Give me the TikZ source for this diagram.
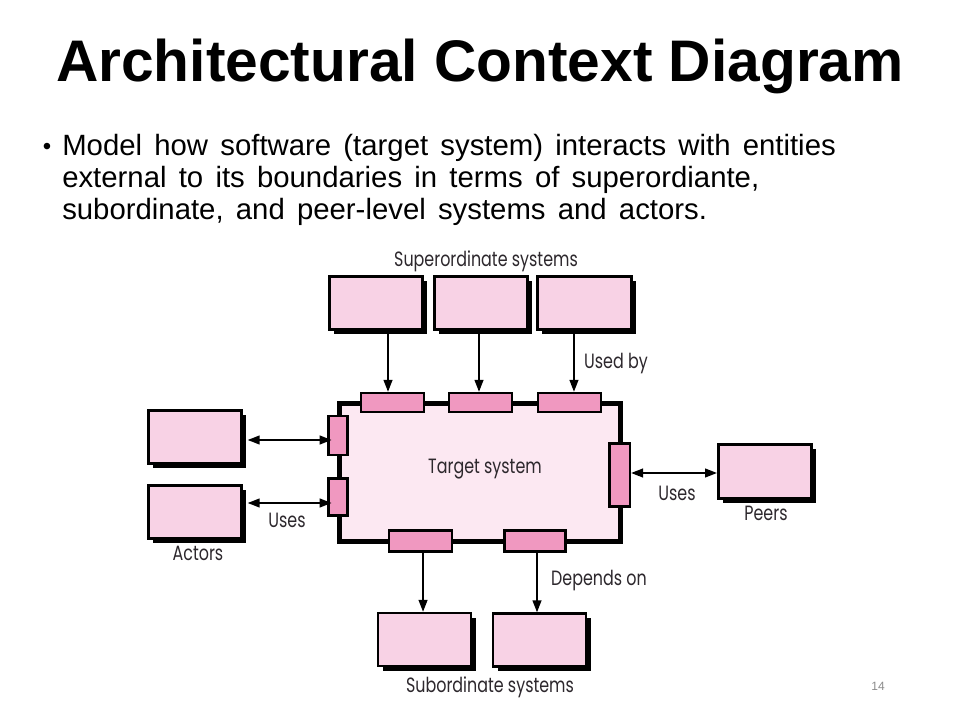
\documentclass[tikz,border=0pt]{standalone}
\usepackage{fontspec}
\setmainfont{Liberation Sans}
\newfontfamily\bodyfont{Liberation Sans}[WordSpace=1.5]
\newfontfamily\diagfont{Poppins}[FakeStretch=0.77]
\usetikzlibrary{arrows.meta,shadows}

\definecolor{boxpink}{RGB}{248,210,229}
\definecolor{portpink}{RGB}{240,152,192}
\definecolor{corepink}{RGB}{252,232,242}
\definecolor{labelgray}{RGB}{45,40,45}

\begin{document}
\begin{tikzpicture}[x=0.75pt,y=-0.75pt,
  sysbox/.style={draw=black, line width=1.9pt, fill=boxpink, inner sep=0pt,
    drop shadow={shadow xshift=3.5pt, shadow yshift=-3.5pt, fill=black, opacity=1}},
  portbox/.style={draw=black, line width=1.9pt, fill=portpink, inner sep=0pt},
  corebox/.style={draw=black, line width=3.75pt, fill=corepink, inner sep=0pt},
  arr/.style={line width=1.5pt, -{Triangle[length=9pt,width=6.5pt]}},
  darr/.style={line width=1.5pt, {Triangle[length=9pt,width=6.5pt]}-{Triangle[length=9pt,width=6.5pt]}},
  lbl/.style={anchor=base, text=labelgray, inner sep=0pt, font=\diagfont\fontsize{15.5}{17}\selectfont},
  bodyline/.style={anchor=base west, inner sep=0pt, font=\bodyfont\fontsize{22}{26}\selectfont}
]
% page
\fill[white] (0,0) rectangle (960,720);
\useasboundingbox (0,0) rectangle (960,720);

% heading and bullet text
\node[anchor=base, inner sep=0pt, font=\bfseries\fontsize{44}{50}\selectfont] (title) at (480,82) {Architectural Context Diagram};
\node[anchor=base, inner sep=0pt, font=\fontsize{18}{20}\selectfont] (bullet) at (47,155) {\textbullet};
\node[bodyline] (line1) at (62,156) {Model how software (target system) interacts with entities};
\node[bodyline] (line2) at (62,188) {external to its boundaries in terms of superordiante,};
\node[bodyline] (line3) at (62,220) {subordinate, and peer-level systems and actors.};

% target system with its interfaces
\node[corebox, minimum width=210.75pt, minimum height=103.5pt] (core) at (480,472.5) {};

\node[portbox, minimum width=47pt, minimum height=14pt] (p1) at (392.5,402.5) {};
\node[portbox, minimum width=47pt, minimum height=14pt] (p2) at (480.5,402.5) {};
\node[portbox, minimum width=47pt, minimum height=14pt] (p3) at (569.5,402.5) {};
\node[portbox, minimum width=14.6pt, minimum height=29pt] (l1) at (338,435.5) {};
\node[portbox, minimum width=14.6pt, minimum height=28pt] (l2) at (338,497) {};
\node[portbox, minimum width=15.4pt, minimum height=47.6pt] (r1) at (619.5,475) {};
\node[portbox, minimum width=47pt, minimum height=16pt] (b1) at (420.5,541) {};
\node[portbox, minimum width=46pt, minimum height=16pt] (b2) at (535,541) {};

% surrounding systems
\node[sysbox, minimum width=70pt, minimum height=40pt] (s1) at (376,303) {};
\node[sysbox, minimum width=70pt, minimum height=40pt] (s2) at (481,303) {};
\node[sysbox, minimum width=70.5pt, minimum height=40pt] (s3) at (584.5,303) {};
\node[sysbox, minimum width=70pt, minimum height=40pt] (a1) at (195,437) {};
\node[sysbox, minimum width=70pt, minimum height=40pt] (a2) at (195,512) {};
\node[sysbox, minimum width=70pt, minimum height=40.5pt] (pe) at (765,471.5) {};
\node[sysbox, minimum width=69.5pt, minimum height=39.5pt] (u1) at (424.5,639.5) {};
\node[sysbox, minimum width=69.5pt, minimum height=39.5pt] (u2) at (539.5,640) {};

% connectors
\draw[arr] ([xshift=9pt]s1.south) -- ([xshift=9pt]s1.south |- p1.north);
\draw[arr] ([xshift=-1.5pt]s2.south) -- ([xshift=-1.5pt]s2.south |- p2.north);
\draw[arr] ([xshift=-7.9pt]s3.south) -- ([xshift=-7.9pt]s3.south |- p3.north);
\draw[darr] ([xshift=3.5pt,yshift=-2.25pt]a1.east) -- ([xshift=3.5pt,yshift=-2.25pt]a1.east -| l1.west);
\draw[darr] ([xshift=3.5pt,yshift=6.75pt]a2.east) -- ([xshift=3.5pt,yshift=6.75pt]a2.east -| l2.west);
\draw[darr] ([yshift=1.5pt]r1.east) -- ([yshift=1.5pt]r1.east -| pe.west);
\draw[arr] ([xshift=1.9pt]b1.south) -- ([xshift=1.9pt]b1.south |- u1.north);
\draw[arr] ([xshift=1.5pt]b2.south) -- ([xshift=1.5pt]b2.south |- u2.north);

% labels
\node[lbl] (tsuper) at (486,267) {Superordinate systems};
\node[lbl] (tused) at (616,368) {Used by};
\node[lbl] (ttarget) at (485,473) {Target system};
\node[lbl] (tuses1) at (287,527) {Uses};
\node[lbl] (tactors) at (198,560) {Actors};
\node[lbl] (tuses2) at (677,500) {Uses};
\node[lbl] (tpeers) at (766,520) {Peers};
\node[lbl] (tdep) at (599,585) {Depends on};
\node[lbl] (tsub) at (490,692) {Subordinate systems};

% slide number
\node[anchor=center, inner sep=0pt, text=black!45, font=\fontsize{9}{10}\selectfont] (pg) at (878,686) {14};
\end{tikzpicture}
\end{document}
